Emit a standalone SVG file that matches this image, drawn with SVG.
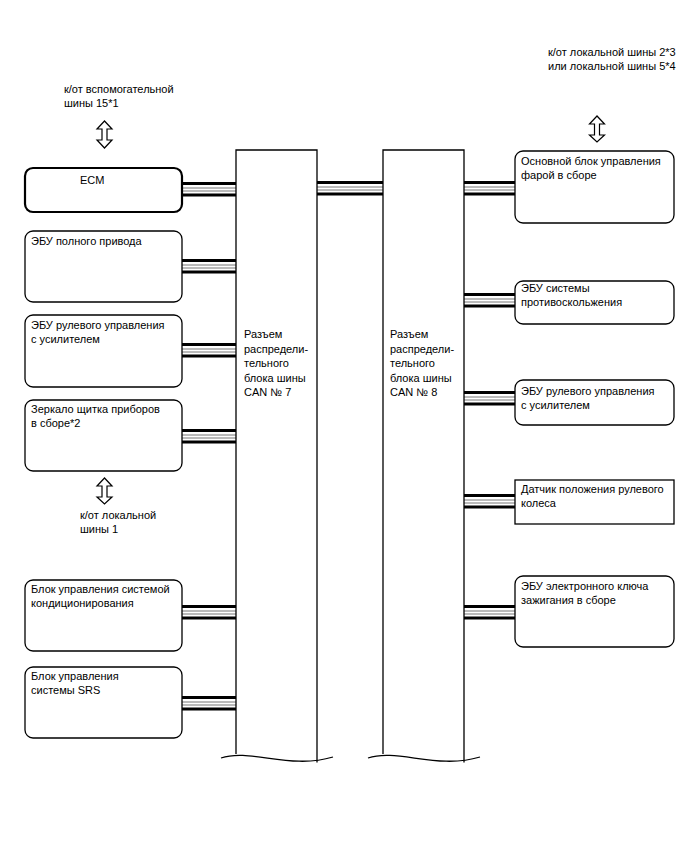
<svg xmlns="http://www.w3.org/2000/svg" width="688" height="852" viewBox="0 0 688 852">
<defs>
<style>
text{font-family:"Liberation Sans",Arial,sans-serif;font-size:11px;fill:#000}
.box{fill:#fff;stroke:#000;stroke-width:1.3}
.ecm{fill:#fff;stroke:#000;stroke-width:2.2}
.bar{fill:none;stroke:#000;stroke-width:1.3}
.thk{stroke:#000;stroke-width:3}
.thn{stroke:#777;stroke-width:1}
.arr{fill:#fff;stroke:#000;stroke-width:1.2}
</style>
</defs>
<rect width="688" height="852" fill="#fff"/>

<g id="connectors">
<g transform="translate(182,189)"><line class="thk" x1="0" y1="-5.5" x2="54" y2="-5.5"/><line class="thn" x1="0" y1="-1" x2="54" y2="-1"/><line class="thn" x1="0" y1="2" x2="54" y2="2"/><line class="thk" x1="0" y1="6" x2="54" y2="6"/></g>
<g transform="translate(182,266)"><line class="thk" x1="0" y1="-5.5" x2="54" y2="-5.5"/><line class="thn" x1="0" y1="-1" x2="54" y2="-1"/><line class="thn" x1="0" y1="2" x2="54" y2="2"/><line class="thk" x1="0" y1="6" x2="54" y2="6"/></g>
<g transform="translate(182,350)"><line class="thk" x1="0" y1="-5.5" x2="54" y2="-5.5"/><line class="thn" x1="0" y1="-1" x2="54" y2="-1"/><line class="thn" x1="0" y1="2" x2="54" y2="2"/><line class="thk" x1="0" y1="6" x2="54" y2="6"/></g>
<g transform="translate(182,436)"><line class="thk" x1="0" y1="-5.5" x2="54" y2="-5.5"/><line class="thn" x1="0" y1="-1" x2="54" y2="-1"/><line class="thn" x1="0" y1="2" x2="54" y2="2"/><line class="thk" x1="0" y1="6" x2="54" y2="6"/></g>
<g transform="translate(182,612)"><line class="thk" x1="0" y1="-5.5" x2="54" y2="-5.5"/><line class="thn" x1="0" y1="-1" x2="54" y2="-1"/><line class="thn" x1="0" y1="2" x2="54" y2="2"/><line class="thk" x1="0" y1="6" x2="54" y2="6"/></g>
<g transform="translate(182,703)"><line class="thk" x1="0" y1="-5.5" x2="54" y2="-5.5"/><line class="thn" x1="0" y1="-1" x2="54" y2="-1"/><line class="thn" x1="0" y1="2" x2="54" y2="2"/><line class="thk" x1="0" y1="6" x2="54" y2="6"/></g>
<g transform="translate(317,188)"><line class="thk" x1="0" y1="-5.5" x2="66" y2="-5.5"/><line class="thn" x1="0" y1="-1" x2="66" y2="-1"/><line class="thn" x1="0" y1="2" x2="66" y2="2"/><line class="thk" x1="0" y1="6" x2="66" y2="6"/></g>
<g transform="translate(464,188)"><line class="thk" x1="0" y1="-5.5" x2="51" y2="-5.5"/><line class="thn" x1="0" y1="-1" x2="51" y2="-1"/><line class="thn" x1="0" y1="2" x2="51" y2="2"/><line class="thk" x1="0" y1="6" x2="51" y2="6"/></g>
<g transform="translate(464,300)"><line class="thk" x1="0" y1="-5.5" x2="51" y2="-5.5"/><line class="thn" x1="0" y1="-1" x2="51" y2="-1"/><line class="thn" x1="0" y1="2" x2="51" y2="2"/><line class="thk" x1="0" y1="6" x2="51" y2="6"/></g>
<g transform="translate(464,398)"><line class="thk" x1="0" y1="-5.5" x2="51" y2="-5.5"/><line class="thn" x1="0" y1="-1" x2="51" y2="-1"/><line class="thn" x1="0" y1="2" x2="51" y2="2"/><line class="thk" x1="0" y1="6" x2="51" y2="6"/></g>
<g transform="translate(464,501)"><line class="thk" x1="0" y1="-5.5" x2="51" y2="-5.5"/><line class="thn" x1="0" y1="-1" x2="51" y2="-1"/><line class="thn" x1="0" y1="2" x2="51" y2="2"/><line class="thk" x1="0" y1="6" x2="51" y2="6"/></g>
<g transform="translate(464,612)"><line class="thk" x1="0" y1="-5.5" x2="51" y2="-5.5"/><line class="thn" x1="0" y1="-1" x2="51" y2="-1"/><line class="thn" x1="0" y1="2" x2="51" y2="2"/><line class="thk" x1="0" y1="6" x2="51" y2="6"/></g>
<polygon class="arr" points="104.5,121 97,129 102,129 102,140 97,140 104.5,148 112,140 107,140 107,129 112,129"/>
<polygon class="arr" points="104.5,478 97,486 102,486 102,497 97,497 104.5,504 112,497 107,497 107,486 112,486"/>
<polygon class="arr" points="597,116 589.5,124 594.5,124 594.5,135 589.5,135 597,142 604.5,135 599.5,135 599.5,124 604.5,124"/>
</g>

<g id="bar7">
<path class="bar" d="M236,754 V150 H317 V762.5"/>
<path class="bar" d="M221,758 C250,748 290,770 333,757"/>
<text x="244" y="338">Разъем</text>
<text x="244" y="352.5">распредели-</text>
<text x="244" y="367">тельного</text>
<text x="244" y="381.5">блока шины</text>
<text x="244" y="396">CAN № 7</text>
</g>

<g id="bar8">
<path class="bar" d="M383,754 V150 H464 V762.5"/>
<path class="bar" d="M368,758 C397,748 437,770 480,757"/>
<text x="390" y="338">Разъем</text>
<text x="390" y="352.5">распредели-</text>
<text x="390" y="367">тельного</text>
<text x="390" y="381.5">блока шины</text>
<text x="390" y="396">CAN № 8</text>
</g>

<g id="ecm">
<rect class="ecm" x="25" y="168" width="157" height="44" rx="8"/>
<text x="80" y="184">ECM</text>
</g>
<g id="awd">
<rect class="box" x="25" y="231" width="157" height="71" rx="8"/>
<text x="31" y="245">ЭБУ полного привода</text>
</g>
<g id="eps-left">
<rect class="box" x="25" y="315" width="157" height="72" rx="8"/>
<text x="31" y="329">ЭБУ рулевого управления</text>
<text x="31" y="343">с усилителем</text>
</g>
<g id="mirror">
<rect class="box" x="25" y="400" width="157" height="71" rx="8"/>
<text x="31" y="413">Зеркало щитка приборов</text>
<text x="31" y="427">в сборе*2</text>
</g>
<g id="ac">
<rect class="box" x="25" y="580" width="157" height="71" rx="8"/>
<text x="31" y="593">Блок управления системой</text>
<text x="31" y="607">кондиционирования</text>
</g>
<g id="srs">
<rect class="box" x="25" y="667" width="157" height="71" rx="8"/>
<text x="31" y="680">Блок управления</text>
<text x="31" y="694">системы SRS</text>
</g>

<g id="headlamp">
<rect class="box" x="515" y="151" width="159" height="72" rx="8"/>
<text x="521" y="165">Основной блок управления</text>
<text x="521" y="179">фарой в сборе</text>
</g>
<g id="skid">
<rect class="box" x="515" y="281" width="159" height="43" rx="8"/>
<text x="521" y="292">ЭБУ системы</text>
<text x="521" y="306">противоскольжения</text>
</g>
<g id="eps-right">
<rect class="box" x="515" y="380" width="159" height="45" rx="8"/>
<text x="521" y="395">ЭБУ рулевого управления</text>
<text x="521" y="409">с усилителем</text>
</g>
<g id="steer-sensor">
<rect class="box" x="515" y="480" width="159" height="44"/>
<text x="521" y="493">Датчик положения рулевого</text>
<text x="521" y="507">колеса</text>
</g>
<g id="smartkey">
<rect class="box" x="515" y="576" width="159" height="71" rx="8"/>
<text x="521" y="590">ЭБУ электронного ключа</text>
<text x="521" y="604">зажигания в сборе</text>
</g>

<g id="labels">
<text x="64" y="93">к/от вспомогательной</text>
<text x="64" y="107">шины 15*1</text>
<text x="80" y="519">к/от локальной</text>
<text x="80" y="533">шины 1</text>
<text x="548" y="56">к/от локальной шины 2*3</text>
<text x="548" y="70">или локальной шины 5*4</text>
</g>
</svg>
